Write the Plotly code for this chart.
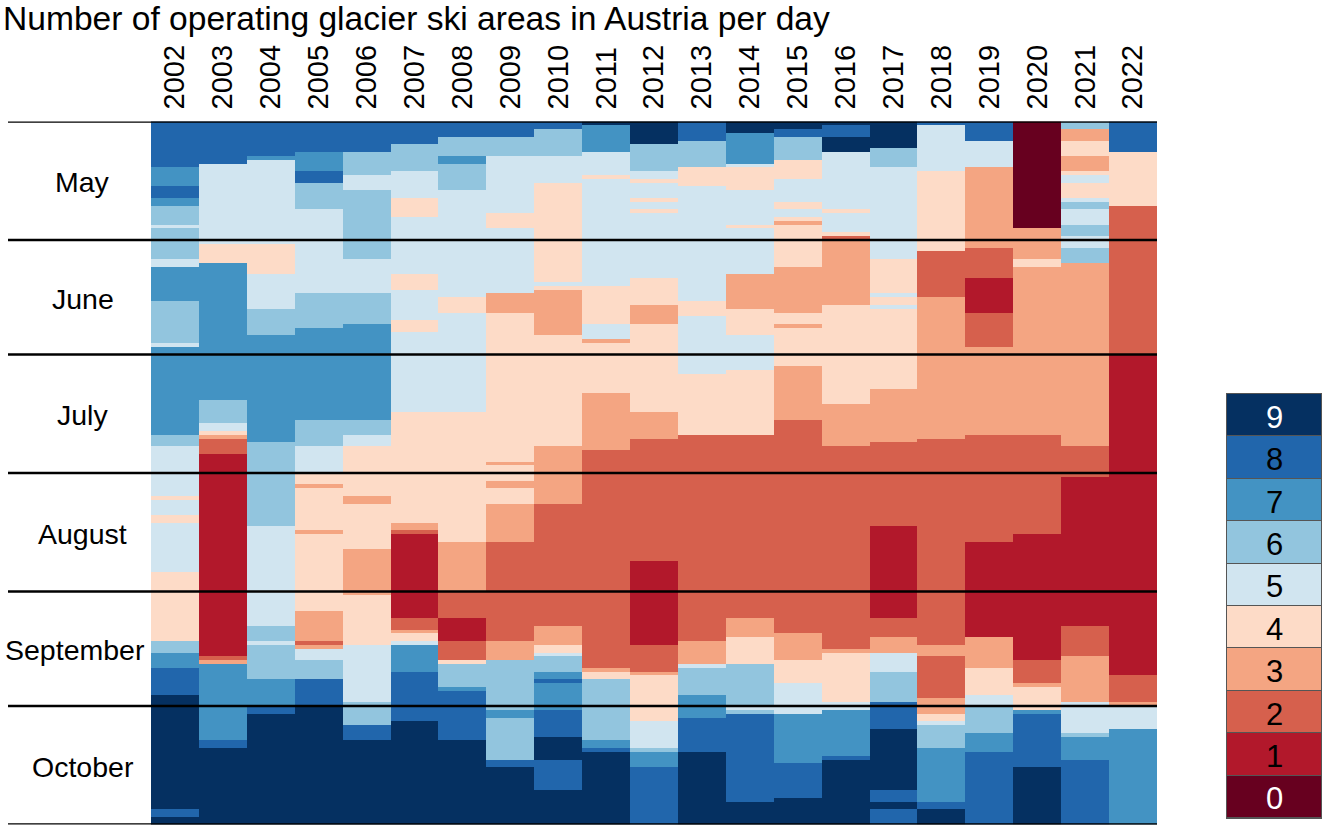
import plotly.graph_objects as go
from plotly.subplots import make_subplots

W = 1325
H = 830

# runs: (number of open ski areas, last day of the run, counted from May 1)
y2002 = [(8,12),(7,17),(8,20),(7,22),(6,27),(5,28),(6,36),(5,38),(7,47),(6,58),(5,59),(7,82),(6,85),(5,98),(4,99),(5,103),(4,105),(5,118),(4,136),(6,139),(7,143),(8,150),(9,180),(8,182),(9,184)]
y2003 = [(8,11),(5,32),(4,37),(7,73),(6,79),(5,81),(4,82),(3,83),(2,87),(1,140),(2,141),(3,142),(7,162),(8,164),(9,184)]
y2004 = [(8,9),(7,10),(5,32),(4,40),(5,49),(6,56),(7,84),(6,106),(5,132),(6,136),(5,137),(6,146),(7,153),(8,155),(9,184)]
y2005 = [(8,8),(7,13),(8,16),(6,23),(5,45),(6,54),(7,78),(6,85),(5,92),(4,95),(3,96),(4,107),(3,108),(4,128),(3,136),(2,137),(3,138),(5,141),(6,146),(8,153),(9,184)]
y2006 = [(8,8),(6,14),(5,18),(6,36),(5,45),(6,53),(7,78),(6,82),(5,85),(4,98),(3,100),(4,112),(3,124),(4,137),(5,152),(6,158),(8,162),(9,184)]
y2007 = [(8,6),(6,13),(5,20),(4,25),(5,40),(4,44),(5,52),(4,55),(5,76),(4,105),(3,107),(2,108),(1,130),(2,133),(3,134),(4,136),(5,137),(7,144),(8,157),(9,184)]
y2008 = [(8,4),(6,9),(7,11),(6,18),(5,46),(4,50),(5,76),(4,110),(3,123),(2,130),(1,136),(2,141),(4,142),(6,148),(7,149),(8,162),(9,184)]
y2009 = [(8,4),(6,9),(5,24),(4,28),(5,45),(3,50),(4,89),(3,90),(4,94),(3,96),(4,100),(3,110),(2,136),(3,141),(6,154),(7,156),(6,167),(8,169),(9,184)]
y2010 = [(8,2),(6,9),(5,16),(4,42),(5,43),(4,44),(3,56),(4,85),(3,100),(2,132),(3,137),(4,139),(5,140),(6,144),(7,146),(8,147),(7,154),(8,161),(9,167),(8,175),(9,184)]
y2011 = [(9,1),(7,8),(5,14),(4,15),(5,43),(4,53),(5,57),(3,58),(4,71),(3,86),(2,143),(3,144),(4,146),(6,162),(7,164),(8,165),(9,184)]
y2012 = [(9,6),(6,13),(5,15),(4,16),(5,20),(4,21),(5,23),(4,24),(5,41),(4,48),(3,53),(4,76),(3,83),(2,115),(1,137),(2,144),(3,145),(4,157),(5,164),(6,165),(7,169),(8,184)]
y2013 = [(8,5),(6,12),(4,17),(5,47),(4,51),(5,66),(4,82),(2,136),(3,142),(5,143),(6,150),(7,156),(8,165),(9,184)]
y2014 = [(9,3),(7,11),(5,12),(4,18),(5,27),(4,28),(5,40),(3,49),(4,56),(5,65),(4,82),(2,130),(3,135),(4,142),(6,153),(5,154),(6,155),(8,178),(9,184)]
y2015 = [(9,2),(8,4),(6,10),(4,15),(5,21),(4,23),(5,25),(4,26),(3,27),(4,38),(3,50),(4,53),(3,54),(4,64),(3,78),(2,134),(3,141),(4,147),(5,155),(7,168),(8,177),(9,184)]
y2016 = [(9,1),(8,4),(9,8),(5,23),(4,24),(5,29),(4,30),(2,31),(3,48),(4,74),(3,85),(2,138),(3,139),(4,152),(5,154),(7,166),(8,167),(9,184)]
y2017 = [(9,7),(6,12),(5,36),(4,45),(5,46),(4,48),(5,49),(4,70),(3,84),(2,106),(1,130),(2,135),(3,139),(5,144),(6,152),(8,159),(9,175),(8,178),(9,180),(8,184)]
y2018 = [(8,1),(5,13),(4,34),(2,46),(3,83),(2,137),(3,140),(2,151),(3,155),(4,157),(5,158),(6,164),(7,178),(8,180),(9,184)]
y2019 = [(8,5),(5,12),(3,33),(2,41),(1,50),(2,59),(3,82),(2,110),(1,135),(3,143),(4,150),(5,153),(6,160),(7,165),(8,184)]
y2020 = [(0,28),(3,36),(4,38),(3,82),(2,108),(1,141),(2,147),(3,148),(4,154),(7,155),(8,169),(9,184)]
y2021 = [(6,2),(3,5),(4,9),(3,13),(4,14),(5,16),(4,20),(5,21),(6,23),(5,27),(6,30),(5,33),(6,37),(3,85),(2,93),(1,132),(2,140),(3,152),(5,160),(6,161),(7,167),(8,184)]
y2022 = [(8,8),(4,22),(2,61),(1,145),(2,152),(3,153),(5,159),(7,184)]

year_runs = [y2002, y2003, y2004, y2005, y2006, y2007, y2008, y2009, y2010, y2011, y2012,
             y2013, y2014, y2015, y2016, y2017, y2018, y2019, y2020, y2021, y2022]
years = [str(y) for y in range(2002, 2023)]
months = ['May', 'June', 'July', 'August', 'September', 'October']
month_days = [31, 30, 31, 31, 30, 31]
levels = [0, 1, 2, 3, 4, 5, 6, 7, 8, 9]
level_colors = ['#67001F', '#B2182B', '#D6604D', '#F4A582', '#FDDBC7',
                '#D1E5F0', '#92C5DE', '#4393C3', '#2166AC', '#053061']
level_text = ['white', 'black', 'black', 'black', 'black', 'black', 'black', 'black', 'black', 'white']


def expand(runs):
    '''Turn (value, last day) runs into one value per day.'''
    out = []
    for value, last in runs:
        out += [value] * (last - len(out))
    return out


days = list(range(1, 185))
columns = [expand(r) for r in year_runs]
z = [[col[i] for col in columns] for i in range(len(days))]

# stepped colour scale, one flat band per level
scale = []
for i, c in enumerate(level_colors):
    scale += [[i / 10, c], [(i + 1) / 10, c]]

fig = make_subplots(rows=1, cols=2)
fig.add_trace(go.Heatmap(x=years, y=days, z=z, zmin=-0.5, zmax=9.5, colorscale=scale,
                         showscale=False, hoverongaps=False), row=1, col=1)
# the key on the right is a second small heatmap
fig.add_trace(go.Heatmap(x=['key'], y=levels, z=[[v] for v in levels], zmin=-0.5, zmax=9.5,
                         colorscale=scale, showscale=False, ygap=1), row=1, col=2)

font = 'Liberation Sans'
fig.update_layout(width=W, height=H, margin=dict(l=0, r=0, t=0, b=0),
                  paper_bgcolor='white', plot_bgcolor='#555555', showlegend=False,
                  font=dict(family=font, color='black', size=28),
                  title=dict(text='Number of operating glacier ski areas in Austria per day',
                             x=3 / W, xanchor='left', y=1 - 6 / H, yanchor='top',
                             font=dict(size=33.6, family=font, color='black'), pad=dict(l=0, t=0)))
fig.update_xaxes(domain=[151 / W, 1157 / W], type='category', side='top', range=[-0.5, 20.5],
                 tickangle=-90, ticks='', ticklabelstandoff=11, tickfont=dict(size=29),
                 showgrid=False, zeroline=False, showline=False, row=1, col=1)
fig.update_yaxes(domain=[1 - 824.5 / H, 1 - 121.5 / H], range=[184.5, 0.5], showticklabels=False,
                 ticks='', showgrid=False, zeroline=False, showline=False, row=1, col=1)
fig.update_xaxes(domain=[1227 / W, 1321 / W], type='category', showticklabels=False, ticks='',
                 showgrid=False, zeroline=False, showline=True, mirror=True,
                 linecolor='#555555', linewidth=1, row=1, col=2)
fig.update_yaxes(domain=[1 - 818 / H, 1 - 394 / H], range=[-0.5, 9.5], showticklabels=False,
                 ticks='', showgrid=False, zeroline=False, showline=True, mirror=True,
                 linecolor='#555555', linewidth=1, row=1, col=2)

# numbers inside the key
for v, c in zip(levels, level_text):
    fig.add_annotation(text=str(v), xref='x2', yref='y2', x='key', y=v, showarrow=False,
                       yshift=-2, font=dict(size=31, color=c))

# black month rules and month names, left of the grid
edge = 0.5
fig.add_shape(type='line', xref='paper', yref='y', x0=8 / W, x1=1157 / W, y0=edge, y1=edge,
              line=dict(color='black', width=2.5))
for name, n in zip(months, month_days):
    mid = edge + n / 2
    edge += n
    fig.add_shape(type='line', xref='paper', yref='y', x0=8 / W, x1=1157 / W, y0=edge, y1=edge,
                  line=dict(color='black', width=2.5))
    # September sits further left in the original, it nearly fills the margin
    fig.add_annotation(text=name, xref='paper', yref='y', x=(74.5 if name == 'September' else 82.5) / W,
                       y=mid, showarrow=False, xanchor='center', yanchor='middle', yshift=-1.5,
                       font=dict(size=28.5))

fig.write_html('out.html', config={'displayModeBar': False},
               post_script="document.body.style.margin='0';")
